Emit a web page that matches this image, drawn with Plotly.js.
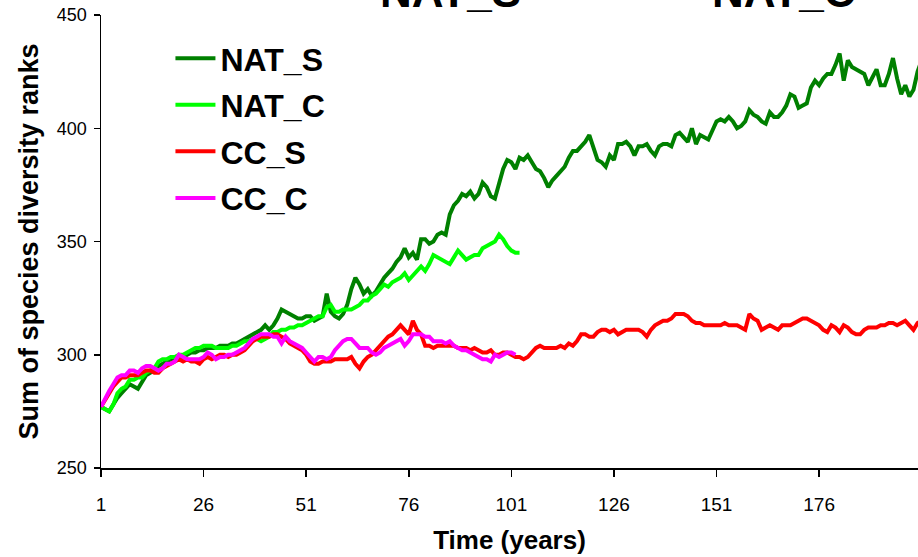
<!DOCTYPE html>
<html>
<head>
<meta charset="utf-8">
<script src="https://cdn.plot.ly/plotly-3.0.1.min.js"></script>
<style>html,body{margin:0;padding:0;background:#fff;}#chart{width:918px;height:557px;}</style>
</head>
<body>
<div id="chart"></div>
<script>
const seriesNames = ["NAT_S", "NAT_C", "CC_S", "CC_C"];
const seriesColors = ["#008000", "#00FF00", "#FF0000", "#FF00FF"];
const xTickVals = [1, 26, 51, 76, 101, 126, 151, 176];
const yTickVals = [250, 300, 350, 400, 450];
const panelTitles = ["NAT_S", "NAT_C"];

const natS = [277,276,275,278,281,283,285,287,286,285,288,291,292,293,295,296,297,298,298,299,
299,300,301,301,302,302,303,303,303,304,304,304,305,305,306,307,308,309,310,311,
313,311,313,316,320,319,318,317,316,316,317,317,315,316,317,327,319,317,316,318,
322,329,334,331,327,329,326,328,331,334,336,338,341,343,347,343,345,342,351,351,
349,350,353,354,353,362,366,368,371,370,372,369,371,376,374,370,369,375,382,386,
385,382,387,386,388,385,382,381,378,374,377,379,381,383,387,390,390,392,394,397,
391,386,385,383,388,386,393,393,394,392,388,392,392,393,390,388,392,393,393,392,
397,398,396,394,400,393,397,396,395,399,403,404,403,405,403,400,401,403,408,406,
405,403,402,407,405,405,407,410,415,414,409,410,411,418,421,419,422,424,424,428,
433,421,430,427,426,425,424,419,423,426,419,419,424,431,422,415,419,414,417,425,430];

const natC = [277,276,275,278,283,285,286,289,289,290,290,292,293,294,297,298,298,299,299,300,
300,301,302,303,303,304,304,304,303,303,303,303,304,304,305,306,306,307,307,306,
307,308,310,310,311,311,312,312,313,313,314,315,316,317,317,321,322,319,319,320,
320,320,321,322,324,324,326,327,329,331,330,332,333,334,336,333,335,337,339,337,
340,344,343,342,341,340,343,346,344,342,343,344,344,347,348,349,350,353,351,348,
346,345,345];

const ccS = [277,280,283,286,288,290,290,291,291,291,292,293,293,292,292,294,295,296,297,298,
297,298,297,297,296,298,299,298,299,300,300,299,300,300,301,302,304,306,307,308,
308,308,309,309,308,307,305,304,303,302,300,297,296,296,297,297,297,298,298,298,
298,299,296,294,297,299,300,302,304,306,308,309,311,313,311,309,315,311,309,304,
304,303,304,304,304,304,304,303,303,303,302,303,302,301,301,302,300,300,301,301,
300,299,299,298,299,301,303,304,303,303,303,303,304,303,305,304,306,309,309,308,
308,310,311,311,310,311,309,310,311,311,311,311,310,308,311,313,314,315,315,316,
318,318,318,317,315,314,314,313,313,313,313,313,314,313,313,313,312,311,318,316,
315,311,312,313,312,311,313,313,313,314,315,316,316,315,314,313,311,310,313,312,
310,313,312,310,309,309,311,312,312,312,313,313,314,314,313,314,315,313,311,314,315];

const ccC = [277,281,284,287,290,291,291,293,293,292,294,295,295,294,293,294,296,296,297,300,
299,298,298,298,298,299,301,300,298,299,299,300,300,301,302,303,305,307,308,309,
309,309,308,308,305,308,306,305,304,303,301,299,297,299,299,298,299,302,304,306,
307,307,305,303,303,303,301,300,301,303,304,305,306,307,304,306,309,309,309,308,
308,306,306,306,305,306,304,303,302,302,301,300,299,298,298,297,300,299,300,301,
301,300];

const seriesValues = [natS, natC, ccS, ccC];
const years = n => Array.from({length: n}, (_, i) => i + 1);

const traces = seriesValues.map((vals, i) => ({
  type: "scatter",
  mode: "lines",
  name: seriesNames[i],
  legendgroup: "g" + i,
  x: years(vals.length),
  y: vals,
  line: {color: seriesColors[i], width: 4},
  hoverinfo: "skip"
}));

const fontFam = "Liberation Sans, Arial, sans-serif";

const layout = {
  width: 918, height: 557,
  margin: {l: 101, r: 0, t: 15, b: 89},
  paper_bgcolor: "#fff", plot_bgcolor: "#fff",
  showlegend: true,
  legend: {
    x: 0.085, y: 0.965, xanchor: "left", yanchor: "top",
    bgcolor: "rgba(0,0,0,0)",
    font: {family: fontFam, size: 32, color: "#000", weight: "bold"},
    traceorder: "grouped", tracegroupgap: 2,
    itemwidth: 40
  },
  xaxis: {
    range: [1, 200.1],
    tickmode: "array", tickvals: xTickVals, ticktext: xTickVals.map(String),
    ticks: "outside", ticklen: 7, tickwidth: 1.5, tickcolor: "#000",
    showline: true, linecolor: "#000", linewidth: 1.5,
    showgrid: false, zeroline: false,
    ticklabelstandoff: 12,
    tickfont: {family: fontFam, size: 19, color: "#000"},
    title: {text: "Time (years)", font: {family: fontFam, size: 26, color: "#000", weight: "bold"}, standoff: 16}
  },
  yaxis: {
    range: [250, 450],
    tickmode: "array", tickvals: yTickVals,
    ticks: "outside", ticklen: 6, tickwidth: 1.5, tickcolor: "#000",
    showline: true, linecolor: "#000", linewidth: 1.5,
    showgrid: false, zeroline: false,
    ticklabelstandoff: 3,
    tickfont: {family: fontFam, size: 18, color: "#000"},
    title: {text: "Sum of species diversity ranks", font: {family: fontFam, size: 27, color: "#000", weight: "bold"}, standoff: 10}
  },
  annotations: panelTitles.map((t, i) => ({
    text: "<b>" + t + "</b>",
    xref: "paper", yref: "paper",
    x: [0.428, 0.835][i], y: 1 + (15 - 18) / 453,
    xanchor: "center", yanchor: "bottom",
    showarrow: false,
    font: {family: fontFam, size: 44, color: "#000"}
  }))
};

Plotly.newPlot("chart", traces, layout, {displayModeBar: false, staticPlot: true});
</script>
</body>
</html>
